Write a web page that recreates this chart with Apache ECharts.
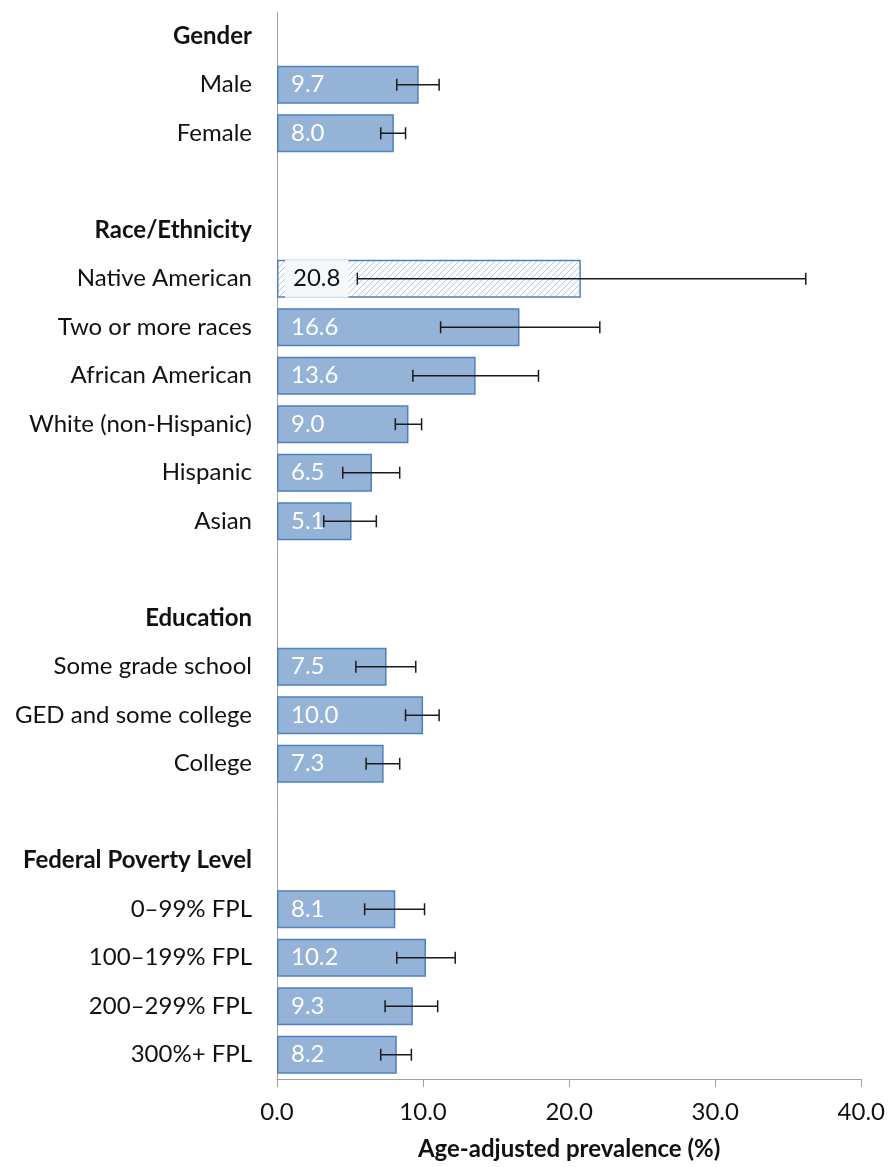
<!DOCTYPE html>
<html>
<head>
<meta charset="utf-8">
<script src="https://cdn.jsdelivr.net/npm/echarts@6/dist/echarts.min.js"></script>
<style>
  html, body { margin: 0; padding: 0; background: #fff; }
  #chart { width: 888px; height: 1167px; }
</style>
</head>
<body>
<div id="chart"></div>
<script>
// Rows from top to bottom; empty strings are spacer rows between groups.
const categories = [
  'Gender', 'Male', 'Female', '',
  'Race/Ethnicity', 'Native American', 'Two or more races', 'African American',
  'White (non-Hispanic)', 'Hispanic', 'Asian', '',
  'Education', 'Some grade school', 'GED and some college', 'College', '',
  'Federal Poverty Level', '0–99% FPL', '100–199% FPL', '200–299% FPL', '300%+ FPL'
];
const headers = ['Gender', 'Race/Ethnicity', 'Education', 'Federal Poverty Level'];

// Age-adjusted prevalence (%) and 95% confidence limits per row
const prevalence = [
  null, 9.7, 8.0, null,
  null, 20.8, 16.6, 13.6, 9.0, 6.5, 5.1, null,
  null, 7.5, 10.0, 7.3, null,
  null, 8.1, 10.2, 9.3, 8.2
];
const ciLow = [
  null, 8.2, 7.1, null,
  null, 5.5, 11.2, 9.3, 8.1, 4.5, 3.2, null,
  null, 5.4, 8.8, 6.1, null,
  null, 6.0, 8.2, 7.4, 7.1
];
const ciHigh = [
  null, 11.1, 8.8, null,
  null, 36.2, 22.1, 17.9, 9.9, 8.4, 6.8, null,
  null, 9.5, 11.1, 8.4, null,
  null, 10.1, 12.2, 11.0, 9.2
];
// Estimates flagged as statistically unstable (drawn hatched)
const unstable = ['Native American'];

const xTicks = { min: 0, max: 40, interval: 10 };

const BAR_FILL = '#95B3D7';
const BAR_EDGE = '#4F81BD';
const TEXT = '#111111';
const AXIS_GRAY = '#A0A0A0';
const FONT = 'Lato, "Open Sans", sans-serif';

// Diagonal hatch pattern for unstable estimates
function hatchPattern() {
  const s = 6;
  const c = document.createElement('canvas');
  c.width = s; c.height = s;
  const g = c.getContext('2d');
  g.fillStyle = '#ffffff';
  g.fillRect(0, 0, s, s);
  g.strokeStyle = '#AFC6E6';
  g.lineWidth = 1;
  g.beginPath();
  g.moveTo(0, s); g.lineTo(s, 0);
  g.moveTo(-1, 1); g.lineTo(1, -1);
  g.moveTo(s - 1, s + 1); g.lineTo(s + 1, s - 1);
  g.stroke();
  return c;
}
const hatch = hatchPattern();

const barData = prevalence.map((v, i) => {
  if (v == null) return '-';
  if (unstable.includes(categories[i])) {
    return {
      value: v,
      itemStyle: { color: { image: hatch, repeat: 'repeat' }, borderColor: BAR_EDGE },
      label: {
        color: '#111',
        backgroundColor: 'rgba(245,248,252,0.92)',
        padding: [7, 8, 7, 8],
        distance: 8
      }
    };
  }
  return { value: v };
});

const errData = [];
ciLow.forEach((lo, i) => {
  if (lo != null) errData.push([lo, ciHigh[i], i]);
});

const chart = echarts.init(document.getElementById('chart'), null, { renderer: 'canvas' });

chart.setOption({
  backgroundColor: '#ffffff',
  animation: false,
  grid: { left: 277, right: 26, top: 12, bottom: 88, containLabel: false },
  xAxis: {
    type: 'value',
    min: xTicks.min,
    max: xTicks.max,
    interval: xTicks.interval,
    name: 'Age-adjusted prevalence (%)',
    nameLocation: 'middle',
    nameGap: 58,
    nameTextStyle: { fontFamily: FONT, fontSize: 24, fontWeight: 'bold', color: TEXT },
    axisLine: { show: true, lineStyle: { color: AXIS_GRAY, width: 1 } },
    axisTick: { show: true, length: 8, lineStyle: { color: AXIS_GRAY } },
    axisLabel: {
      fontFamily: FONT, fontSize: 24, color: TEXT, margin: 21,
      formatter: v => v.toFixed(1)
    },
    splitLine: { show: false }
  },
  yAxis: {
    type: 'category',
    data: categories,
    inverse: true,
    axisLine: { show: true, lineStyle: { color: AXIS_GRAY, width: 1 } },
    axisTick: { show: false },
    axisLabel: {
      fontFamily: FONT, fontSize: 24, color: TEXT, margin: 25,
      interval: 0,
      formatter: v => headers.includes(v) ? '{h|' + v + '}' : v,
      rich: {
        h: { fontFamily: FONT, fontSize: 24, fontWeight: 'bold', color: TEXT }
      }
    }
  },
  series: [
    {
      type: 'bar',
      data: barData,
      barWidth: 38,
      itemStyle: { color: BAR_FILL, borderColor: BAR_EDGE, borderWidth: 1.5 },
      label: {
        show: true,
        position: 'insideLeft',
        distance: 14,
        fontFamily: FONT,
        fontSize: 24,
        color: '#ffffff',
        formatter: p => Number(p.value).toFixed(1)
      },
      z: 2
    },
    {
      type: 'custom',
      data: errData,
      encode: { x: [0, 1], y: 2 },
      z: 5,
      renderItem: (params, api) => {
        const row = api.value(2);
        const a = api.coord([api.value(0), row]);
        const b = api.coord([api.value(1), row]);
        const cap = 6;
        const style = { stroke: '#1a1a1a', lineWidth: 1.5 };
        return {
          type: 'group',
          children: [
            { type: 'line', shape: { x1: a[0], y1: a[1], x2: b[0], y2: b[1] }, style },
            { type: 'line', shape: { x1: a[0], y1: a[1] - cap, x2: a[0], y2: a[1] + cap }, style },
            { type: 'line', shape: { x1: b[0], y1: b[1] - cap, x2: b[0], y2: b[1] + cap }, style }
          ]
        };
      }
    }
  ]
});
</script>
</body>
</html>
